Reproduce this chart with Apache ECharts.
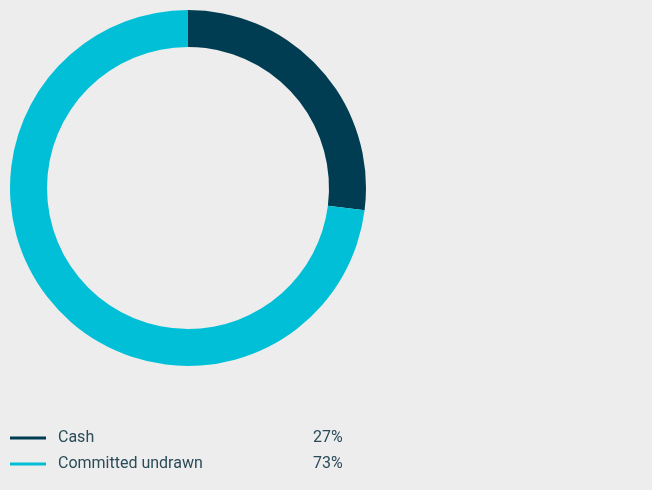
<!DOCTYPE html>
<html><head><meta charset="utf-8">
<script src="https://cdn.jsdelivr.net/npm/echarts@6/dist/echarts.min.js"></script>
<style>html,body{margin:0;padding:0;background:#ededed}#c{width:652px;height:490px}</style>
</head><body><div id="c"></div>
<script>
const categories = ['Cash', 'Committed undrawn'];
const values = [27, 73];
const colors = ['#003d52', '#00bfd6'];

const chart = echarts.init(document.getElementById('c'));
chart.setOption({
  backgroundColor: '#ededed',
  animation: false,
  legend: {
    orient: 'vertical',
    left: 10,
    top: 430,
    padding: 0,
    itemWidth: 36,
    itemHeight: 3,
    itemGap: 10,
    icon: 'rect',
    selectedMode: false,
    data: categories,
    formatter: function (n) {
      const i = categories.indexOf(n);
      return '{n|' + n + '}{v|' + values[i] + '%}';
    },
    textStyle: {
      lineHeight: 16,
      rich: {
        n: { width: 255, fontSize: 16, color: '#2a4b58', fontFamily: 'Roboto', padding: [0, 0, 0, 7], lineHeight: 16 },
        v: { fontSize: 16, color: '#2a4b58', fontFamily: 'Roboto', lineHeight: 16 }
      }
    }
  },
  series: [{
    type: 'pie',
    center: [188, 188],
    radius: [141, 178],
    startAngle: 90,
    clockwise: true,
    label: { show: false },
    labelLine: { show: false },
    silent: true,
    data: categories.map((c, i) => ({ name: c, value: values[i], itemStyle: { color: colors[i] } }))
  }]
});
</script></body></html>
